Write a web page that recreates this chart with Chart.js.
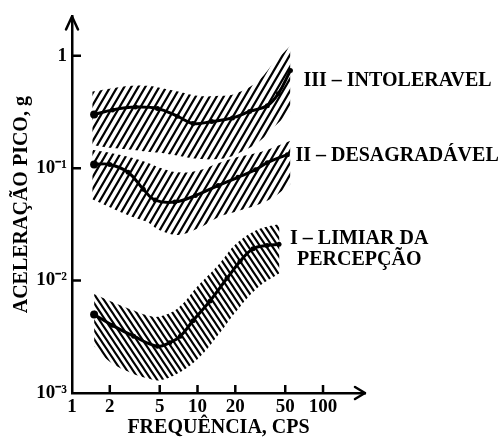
<!DOCTYPE html>
<html>
<head>
<meta charset="utf-8">
<script src="https://cdn.jsdelivr.net/npm/chart.js@4/dist/chart.umd.min.js"></script>
<style>
  html, body { margin: 0; padding: 0; background: #fff; }
  canvas { display: block; }
</style>
</head>
<body>
<canvas id="chart" width="499" height="438"></canvas>
<script>
// Curvas (frequência em Hz, aceleração em g)
const freqIII = [1.5, 2.1, 3.2, 4.8, 6.9, 9.2, 13, 19, 26, 36, 44, 55];
const accIII = [0.30, 0.33, 0.35, 0.34, 0.29, 0.25, 0.26, 0.28, 0.32, 0.36, 0.46, 0.74];

const freqII = [1.5, 2.0, 2.8, 3.7, 4.6, 6.6, 9.6, 14.6, 21, 29, 36, 52];
const accII = [0.108, 0.108, 0.092, 0.065, 0.052, 0.050, 0.057, 0.070, 0.083, 0.097, 0.112, 0.132];

const freqI = [1.5, 2.1, 3.1, 4.8, 6.0, 7.3, 9.2, 12.6, 17.2, 21.8, 27.7, 35.8, 44.6];
const accI = [0.0050, 0.0040, 0.0032, 0.0026, 0.0028, 0.0032, 0.0044, 0.0066, 0.0105, 0.0148, 0.0192, 0.0205, 0.0210];

// Faixas hachuradas
const bandFreq = [1.45, 2, 3, 4, 5, 7, 10, 15, 20, 30, 40, 55];
const bandIIIHigh = [0.48, 0.51, 0.54, 0.54, 0.52, 0.48, 0.44, 0.44, 0.46, 0.59, 0.85, 1.23];
const bandIIILow = [0.161, 0.152, 0.146, 0.140, 0.137, 0.129, 0.121, 0.121, 0.132, 0.168, 0.228, 0.321];
const bandIIHigh = [0.146, 0.137, 0.124, 0.112, 0.101, 0.092, 0.095, 0.112, 0.124, 0.137, 0.152, 0.175];
const bandIILow = [0.053, 0.045, 0.037, 0.033, 0.028, 0.0255, 0.029, 0.037, 0.041, 0.047, 0.055, 0.072];

const bandFreqI = [1.5, 2, 3, 4, 5, 7, 10, 15, 20, 30, 45];
const bandIHigh = [0.0076, 0.0066, 0.0055, 0.0049, 0.0048, 0.0057, 0.0089, 0.0142, 0.0209, 0.0283, 0.0319];
const bandILow = [0.0026, 0.0019, 0.0015, 0.00135, 0.0013, 0.0015, 0.0020, 0.0034, 0.0052, 0.0086, 0.0116];

// Eixos
const xTicks = [1, 2, 5, 10, 20, 50, 100];
const xTickLabels = ['1', '2', '5', '10', '20', '50', '100'];
const yTicks = [0.001, 0.01, 0.1, 1];
const yTickLabels = ['10⁻³', '10⁻²', '10⁻¹', '1'];

const curveNames = [['III – INTOLERAVEL'], ['II – DESAGRADÁVEL'], ['I – LIMIAR DA', 'PERCEPÇÃO']];

const FONT = "'Liberation Serif', 'Times New Roman', serif";

const canvas = document.getElementById('chart');
const ctx = canvas.getContext('2d');

function hatch(rising, w, h, lw) {
    const c = document.createElement('canvas');
    c.width = w; c.height = h;
    const g = c.getContext('2d');
    g.strokeStyle = '#000';
    g.lineWidth = lw;
    g.beginPath();
    if (rising) {
        g.moveTo(-w, 2 * h); g.lineTo(2 * w, -h);
        g.moveTo(-w, h); g.lineTo(w, -h);
        g.moveTo(0, 2 * h); g.lineTo(2 * w, 0);
    } else {
        g.moveTo(-w, -h); g.lineTo(2 * w, 2 * h);
        g.moveTo(-w, 0); g.lineTo(w, 2 * h);
        g.moveTo(0, -h); g.lineTo(2 * w, h);
    }
    g.stroke();
    return ctx.createPattern(c, 'repeat');
}

const hatchUp = hatch(true, 7, 12, 2.2);
const hatchDown = hatch(false, 6, 9, 2.1);

const pts = (xs, ys) => xs.map((x, i) => ({ x: x, y: ys[i] }));

const curve = (xs, ys) => ({
    data: pts(xs, ys),
    borderColor: '#000',
    borderWidth: 3,
    backgroundColor: '#000',
    pointBackgroundColor: '#000',
    pointBorderWidth: 0,
    pointRadius: (c) => c.dataIndex === 0 ? 4 : 2.5,
    tension: 0.4,
    fill: false
});

const bandTop = (xs, ys, pattern) => ({
    data: pts(xs, ys),
    borderWidth: 0,
    pointRadius: 0,
    backgroundColor: pattern,
    tension: 0.4,
    fill: '+1'
});

const bandBottom = (xs, ys) => ({
    data: pts(xs, ys),
    borderWidth: 0,
    pointRadius: 0,
    tension: 0.4,
    fill: false
});

const decor = {
    id: 'decor',
    afterDraw(chart) {
        const { ctx, chartArea: a, scales: { x, y } } = chart;
        ctx.save();
        ctx.strokeStyle = '#000';
        ctx.lineWidth = 2.5;
        ctx.lineCap = 'round';
        ctx.lineJoin = 'round';
        ctx.beginPath();
        // setas dos eixos
        ctx.moveTo(a.left - 6, a.top + 13); ctx.lineTo(a.left, a.top); ctx.lineTo(a.left + 6, a.top + 13);
        ctx.moveTo(a.right - 10, a.bottom - 6); ctx.lineTo(a.right, a.bottom); ctx.lineTo(a.right - 10, a.bottom + 6);
        ctx.stroke();
        ctx.lineCap = 'butt';
        ctx.beginPath();
        yTicks.slice(1).forEach(v => {
            const p = y.getPixelForValue(v);
            ctx.moveTo(a.left, p); ctx.lineTo(a.left + 9, p);
        });
        xTicks.slice(1).forEach(v => {
            const p = x.getPixelForValue(v);
            ctx.moveTo(p, a.bottom); ctx.lineTo(p, a.bottom - 8);
        });
        ctx.stroke();

        // nomes das curvas
        ctx.fillStyle = '#000';
        ctx.font = 'bold 20px ' + FONT;
        ctx.textBaseline = 'middle';
        ctx.textAlign = 'left';
        const ends = [[freqIII, accIII, 13, 10], [freqII, accII, 8, 1], [freqI, accI, 11, -6]];
        ends.forEach(([fx, fy, dx, dy], k) => {
            const px = x.getPixelForValue(fx[fx.length - 1]);
            const py = y.getPixelForValue(fy[fy.length - 1]);
            curveNames[k].forEach((t, j) => {
                ctx.fillText(t, px + dx + j * 7, py + dy + j * 21);
            });
        });
        ctx.restore();
    }
};

new Chart(ctx, {
    type: 'line',
    data: {
        datasets: [
            curve(freqIII, accIII),
            curve(freqII, accII),
            curve(freqI, accI),
            bandTop(bandFreq, bandIIIHigh, hatchUp),
            bandBottom(bandFreq, bandIIILow),
            bandTop(bandFreq, bandIIHigh, hatchUp),
            bandBottom(bandFreq, bandIILow),
            bandTop(bandFreqI, bandIHigh, hatchDown),
            bandBottom(bandFreqI, bandILow)
        ]
    },
    options: {
        responsive: false,
        animation: false,
        events: [],
        layout: { padding: { top: 12, right: 134, left: 0, bottom: 0 } },
        plugins: {
            legend: { display: false },
            tooltip: { enabled: false }
        },
        scales: {
            x: {
                type: 'logarithmic',
                min: 1,
                max: 216,
                bounds: 'data',
                afterFit: (s) => { s.height = 45; },
                afterBuildTicks: (s) => { s.ticks = xTicks.map(v => ({ value: v })); },
                grid: { display: true, drawOnChartArea: false, drawTicks: false },
                border: { display: true, color: '#000', width: 2.5 },
                ticks: {
                    autoSkip: false,
                    maxRotation: 0,
                    padding: 3,
                    color: '#000',
                    font: { family: FONT, size: 19, weight: 'bold' },
                    callback: (v, i) => xTickLabels[i]
                },
                title: {
                    display: true,
                    text: 'FREQUÊNCIA, CPS',
                    color: '#000',
                    font: { family: FONT, size: 20, weight: 'bold', lineHeight: 1 },
                    padding: { top: 0, bottom: 0 }
                }
            },
            y: {
                type: 'logarithmic',
                min: 0.001,
                max: 2.24,
                bounds: 'data',
                afterFit: (s) => { s.width = 72; },
                afterBuildTicks: (s) => { s.ticks = yTicks.map(v => ({ value: v })); },
                grid: { display: true, drawOnChartArea: false, drawTicks: false },
                border: { display: true, color: '#000', width: 2.5 },
                ticks: {
                    autoSkip: false,
                    padding: 5,
                    color: '#000',
                    font: { family: FONT, size: 19, weight: 'bold' },
                    callback: (v, i) => yTickLabels[i]
                },
                title: {
                    display: true,
                    text: 'ACELERAÇÃO PICO, g',
                    color: '#000',
                    font: { family: FONT, size: 20, weight: 'bold', lineHeight: 1 },
                    padding: { top: 12, bottom: 0 }
                }
            }
        }
    },
    plugins: [decor]
});
</script>
</body>
</html>
